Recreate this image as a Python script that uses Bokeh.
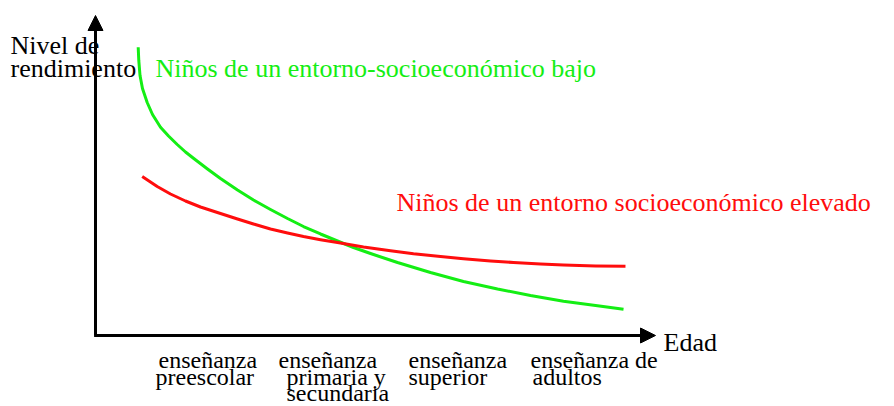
from bokeh.plotting import figure
from bokeh.models import Range1d, Arrow, NormalHead
from bokeh.core.properties import value
from bokeh.embed import file_html
from bokeh.resources import INLINE

# ---- data (age on x 0..10, performance level on y 0..10) ----
bajo_x = [0.7625, 0.773, 0.795, 0.839, 0.923, 1.018, 1.161, 1.304, 1.459, 1.607,
          1.755, 2.0, 2.232, 2.536, 2.821, 3.125, 3.429, 3.714, 4.018, 4.321,
          4.607, 4.911, 5.393, 5.982, 6.571, 7.179, 7.768, 8.357, 8.964, 9.429]
bajo_y = [9.009, 8.594, 8.125, 7.719, 7.281, 6.906, 6.509, 6.234, 5.969, 5.734,
          5.531, 5.203, 4.906, 4.547, 4.234, 3.938, 3.656, 3.406, 3.172, 2.953,
          2.75, 2.5625, 2.281, 1.969, 1.6875, 1.453, 1.25, 1.072, 0.928, 0.819]
elevado_x = [0.834, 1.102, 1.339, 1.607, 1.875, 2.232, 2.536, 2.821, 3.125, 3.429,
             3.714, 4.018, 4.321, 4.786, 5.268, 5.679, 6.161, 6.571, 7.054, 7.464,
             7.946, 8.357, 8.929, 9.464]
elevado_y = [4.969, 4.656, 4.422, 4.203, 4.016, 3.8125, 3.641, 3.484, 3.328, 3.203,
             3.094, 2.994, 2.906, 2.766, 2.647, 2.556, 2.469, 2.4, 2.331, 2.281,
             2.234, 2.203, 2.175, 2.1625]

y_title = ["Nivel de", "rendimiento"]
x_title = "Edad"
label_bajo = "Niños de un entorno-socioeconómico bajo"
label_elevado = "Niños de un entorno socioeconómico elevado"
stage_labels = [
    ["enseñanza", "preescolar"],
    ["enseñanza", "primaria y", "secundaria"],
    ["enseñanza", "superior"],
    ["enseñanza de", "adultos"],
]

GREEN = "#14ee14"
RED = "#ff0d0d"
FONT = value("Liberation Serif")
FS = "26px"
FS_STAGE = "24px"

W, H = 894, 406
OX, OY = 95, 335           # origin position in canvas pixels (from left, from top)
KX, KY = 56.0, 32.0        # pixels per data unit

def dx(sx):  # canvas pixel -> data x
    return (sx - OX) / KX

def dy(sy):  # canvas pixel -> data y
    return (OY - sy) / KY

p = figure(width=W, height=H, output_backend="svg", toolbar_location=None,
           x_range=Range1d(-OX / KX, (W - OX) / KX),
           y_range=Range1d(-(H - OY) / KY, OY / KY),
           x_axis_type=None, y_axis_type=None, min_border=0,
           outline_line_color=None, background_fill_color="white")
p.grid.visible = False

# axes with arrowheads
p.add_layout(Arrow(end=NormalHead(size=15, line_color="black", fill_color="black", line_width=1),
                   x_start=0, y_start=0, x_end=0, y_end=10, line_width=3, line_color="black"))
p.add_layout(Arrow(end=NormalHead(size=15, line_color="black", fill_color="black", line_width=1),
                   x_start=-0.025, y_start=0, x_end=10, y_end=0, line_width=3, line_color="black"))

# curves
p.line(bajo_x, bajo_y, line_color=GREEN, line_width=3, line_join="round")
p.line(elevado_x, elevado_y, line_color=RED, line_width=3, line_join="round")

def txt(xs, ys, texts, color, size=FS):
    p.text(x=xs, y=ys, text=texts, text_font=FONT, text_font_size=size,
           text_color=color, text_align="left", text_baseline="alphabetic")

# y title
txt([dx(10), dx(10)], [dy(45), dy(68)], y_title, "black")
# x title
txt([dx(663)], [dy(342)], [x_title], "black")
# series labels
txt([dx(155)], [dy(68)], [label_bajo], GREEN)
txt([dx(396)], [dy(202)], [label_elevado], RED)

# stage labels under the x axis
col_left = [[158, 155], [278, 286, 286], [408, 408], [530, 532]]
line_base = [359, 376, 392]
xs, ys, ts = [], [], []
for lines, lefts in zip(stage_labels, col_left):
    for i, (t, l) in enumerate(zip(lines, lefts)):
        xs.append(dx(l)); ys.append(dy(line_base[i])); ts.append(t)
txt(xs, ys, ts, "black", FS_STAGE)

open("out.html", "w").write(file_html(p, INLINE))
